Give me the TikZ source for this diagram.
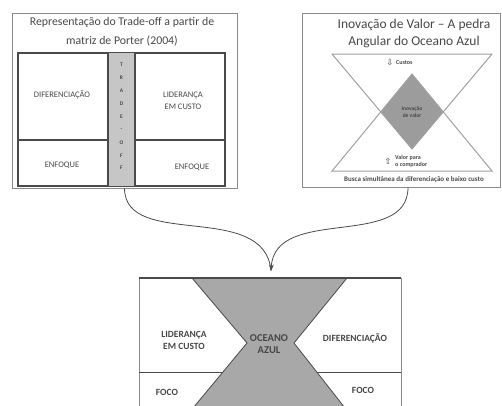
\documentclass[tikz,border=0pt]{standalone}
\usepackage{fontspec}
\setmainfont{Carlito}
\newfontfamily\symfont{DejaVu Sans}
\usetikzlibrary{arrows.meta}
\definecolor{framegray}{HTML}{8A8A8A}
\definecolor{linedark}{HTML}{4A4A4A}
\definecolor{stripgray}{HTML}{C6C6C6}
\definecolor{oceangray}{HTML}{A8A8A8}
\definecolor{valuegray}{HTML}{9C9C9C}
\definecolor{trigray}{HTML}{A0A0A0}
\definecolor{txtgray}{HTML}{474747}
\tikzset{
  panel/.style={draw=framegray, line width=0.8pt, inner sep=0pt},
  cell/.style={draw=linedark, line width=1.3pt},
  celltext/.style={text=txtgray, align=center, font=\fontsize{8.5}{12}\selectfont},
  oceantext/.style={text=txtgray, align=center, font=\fontsize{9.5}{12}\selectfont\bfseries},
  tinytext/.style={text=txtgray, align=left, inner sep=0pt, font=\fontsize{6}{7}\selectfont\bfseries},
  icon/.style={text=txtgray, inner sep=0pt, font=\symfont\fontsize{8.5}{9}\selectfont},
  letter/.style={text=txtgray, font=\fontsize{5.5}{6}\selectfont\bfseries},
  link/.style={draw=linedark, line width=0.8pt}
}
\begin{document}
\begin{tikzpicture}[x=1pt,y=-1pt,>=Stealth]
\useasboundingbox (0,0) rectangle (502,405);
\clip (0,0) rectangle (502,405);

% matriz de Porter
\node[panel, minimum width=225pt, minimum height=175pt] (porter) at (124.5,100.5) {};
\node[text=txtgray, align=center, font=\fontsize{11.8}{19}\selectfont] (portertitle) at (122,32) {Representação do Trade-off a partir de\\matriz de Porter (2004)};
\draw[cell] (18,53) rectangle (225,186);
\draw[cell] (18,140) -- (225,140);
\fill[stripgray] (108,53) rectangle (135,186);
\draw[cell] (108,53) -- (108,186) (135,53) -- (135,186);
\foreach \ch [count=\i] in {T,R,A,D,E,-,O,F,F}
  \node[letter] (tradeoff\i) at (121.5,52.1+\i*12.9) {\ch};
\node[celltext] (pdif) at (62,95) {DIFERENCIAÇÃO};
\node[celltext] (plid) at (183,101) {LIDERANÇA\\EM CUSTO};
\node[celltext] (penfa) at (62,165) {ENFOQUE};
\node[celltext] (penfb) at (192,167) {ENFOQUE};

% inovacao de valor
\node[panel, minimum width=198pt, minimum height=174pt] (valor) at (401,100) {};
\node[text=txtgray, align=center, font=\fontsize{13.5}{17}\selectfont] (valortitle) at (414,33.5) {Inovação de Valor – A pedra\\Angular do Oceano Azul};
\begin{scope}
\clip (332,54) -- (492,54) -- (412,149) -- cycle;
\fill[valuegray] (332,171) -- (492,171) -- (412,74) -- cycle;
\end{scope}
\draw[trigray, line width=1pt] (332,54) -- (492,54) -- (412,149) -- cycle;
\draw[trigray, line width=1pt] (332,171) -- (492,171) -- (412,74) -- cycle;
\node[icon] (downicon) at (390,63) {⇩};
\node[tinytext, anchor=west] (custos) at (396,63) {Custos};
\node[tinytext, align=center, font=\fontsize{5.5}{7.5}\selectfont\bfseries] (inov) at (412,112) {Inovação\\de valor};
\node[icon] (upicon) at (388,161) {⇧};
\node[tinytext, anchor=west] (comprador) at (395,161) {Valor para\\o comprador};
\node[tinytext, font=\fontsize{7}{8}\selectfont\bfseries] (busca) at (414,179.5) {Busca simultânea da diferenciação e baixo custo};

% oceano azul
\draw[framegray, line width=0.8pt] (139,410) -- (139,278) (401,278) -- (401,410);
\draw[linedark, line width=1pt] (139,372) -- (401,372);
\fill[oceangray, draw=linedark, line width=0.8pt] (192,278) -- (347,278) -- (294,343) -- (345,408) -- (193,408) -- (247,343) -- cycle;
\draw[linedark, line width=1.6pt] (139,278) -- (401,278);
\coordinate (oceantop) at (271,271);
\node[oceantext] (olid) at (184,340) {LIDERANÇA\\EM CUSTO};
\node[oceantext, font=\fontsize{10.5}{12}\selectfont\bfseries] (oazul) at (269,344) {OCEANO\\AZUL};
\node[oceantext] (odif) at (355,338) {DIFERENCIAÇÃO};
\node[oceantext] (ofocoa) at (167,392) {FOCO};
\node[oceantext] (ofocob) at (363,390) {FOCO};

% ligacoes
\draw[link] (porter.south) .. controls (125,250) and (265,200) .. (oceantop);
\draw[link,->] ([xshift=7pt]valor.south) .. controls (408,250) and (275,205) .. (oceantop);
\end{tikzpicture}
\end{document}
